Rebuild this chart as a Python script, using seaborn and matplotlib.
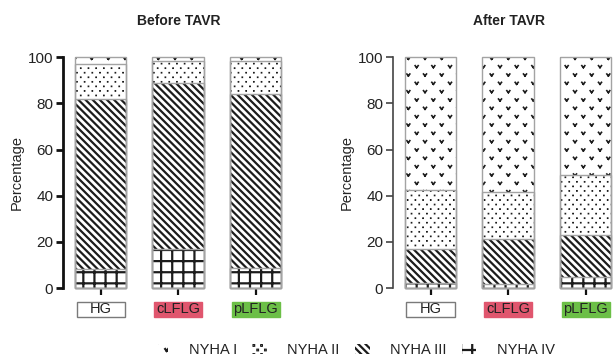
import numpy as np
import pandas as pd
import matplotlib
matplotlib.use("Agg")
import matplotlib.pyplot as plt
import matplotlib.hatch as mhatch
import matplotlib.patches as mpatches
import matplotlib.transforms as mtransforms
from matplotlib.path import Path
import seaborn as sns

# ---- data (percent of patients per NYHA class) ----
groups = ["HG", "cLFLG", "pLFLG"]
classes = ["NYHA I", "NYHA II", "NYHA III", "NYHA IV"]

before_i = [3.0, 1.7, 1.7]
before_ii = [14.9, 9.4, 14.0]
before_iii = [73.9, 72.2, 75.8]
before_iv = [8.2, 16.7, 8.5]

after_i = [57.4, 58.2, 51.0]
after_ii = [25.7, 20.6, 25.9]
after_iii = [14.7, 19.5, 18.3]
after_iv = [2.2, 1.7, 4.8]

y_ticks = [0, 20, 40, 60, 80, 100]
label_fill = ["white", "#E0566E", "#6CBF47"]


# ---- hatch patterns (one tile = 72 pt) ----
class GridRows(mhatch.HorizontalHatch):
    def __init__(self, pattern, density):
        super().__init__(pattern, 9)


class GridCols(mhatch.VerticalHatch):
    def __init__(self, pattern, density):
        super().__init__(pattern, 9)


class DenseBackslash(mhatch.SouthEastHatch):
    def __init__(self, pattern, density):
        super().__init__(pattern, 28)


class StaggeredMarks(mhatch.HatchPatternBase):
    symbol = "o"
    n_cols = 13
    n_rows = 22
    glyph = np.array([[-0.003, -0.003], [0.003, -0.003], [0.003, 0.003],
                      [-0.003, 0.003], [-0.003, -0.003]])
    glyph_codes = np.array([Path.MOVETO, Path.LINETO, Path.LINETO,
                            Path.LINETO, Path.CLOSEPOLY], dtype=Path.code_type)

    def __init__(self, pattern, density):
        centers = []
        if self.symbol in pattern:
            for r in range(self.n_rows + 1):
                y = r / self.n_rows
                if r % 2 == 0:
                    xs = np.arange(self.n_cols + 1) / self.n_cols
                else:
                    xs = (np.arange(self.n_cols) + 0.5) / self.n_cols
                centers.extend((x, y) for x in xs)
        self.centers = np.array(centers, dtype=float).reshape(-1, 2)
        self.num_vertices = len(self.centers) * len(self.glyph)

    def set_vertices_and_codes(self, vertices, codes):
        k = len(self.glyph)
        for i, c in enumerate(self.centers):
            vertices[i * k:(i + 1) * k] = self.glyph + c
            codes[i * k:(i + 1) * k] = self.glyph_codes


class Chevrons(StaggeredMarks):
    symbol = "O"
    n_cols = 6
    n_rows = 12
    # two separate strokes forming a small "v"
    glyph = np.array([[-0.015, 0.010], [0.0, -0.009],
                      [0.0, -0.009], [0.015, 0.010]])
    glyph_codes = np.array([Path.MOVETO, Path.LINETO,
                            Path.MOVETO, Path.LINETO], dtype=Path.code_type)


mhatch._hatch_types[:] = [GridRows, GridCols, DenseBackslash,
                          StaggeredMarks, Chevrons]

HATCH = {"NYHA I": "O", "NYHA II": "o", "NYHA III": "\\", "NYHA IV": "+"}
HATCH_LW = {"NYHA I": 1.2, "NYHA II": 0.8, "NYHA III": 1.6, "NYHA IV": 1.6}
INK = "#1c1c1c"
EDGE_GREY = "#a3a3a3"

# ---- style ----
sns.set_style("ticks")
plt.rcParams["font.family"] = ["Liberation Sans", "DejaVu Sans"]
plt.rcParams["hatch.linewidth"] = 1.6
plt.rcParams["text.color"] = "#222222"
plt.rcParams["xtick.color"] = "#111111"
plt.rcParams["ytick.color"] = "#111111"
plt.rcParams["xtick.labelcolor"] = "#222222"
plt.rcParams["ytick.labelcolor"] = "#222222"


def set_hatch_width(patches, lw):
    for p in patches:
        if hasattr(p, "set_hatch_linewidth"):
            p.set_hatch_linewidth(lw)
        else:
            p._hatch_linewidth = lw


fig = plt.figure(figsize=(6.16, 3.60), dpi=100)
ax_before = fig.add_axes([0.1023, 0.2, 0.3755, 0.6408])
ax_after = fig.add_axes([0.638, 0.2, 0.3755, 0.6408])

stack_order = ["NYHA IV", "NYHA III", "NYHA II", "NYHA I"]


def draw_panel(ax, title, shares, spine_w, spine_c):
    df = pd.DataFrame({"group": groups, **shares})
    tops = df[stack_order].cumsum(axis=1)
    tops["group"] = groups
    # tallest cumulative bar first, each lower segment paints over it
    for cls in reversed(stack_order):
        n0 = len(ax.patches)
        with plt.rc_context({"hatch.linewidth": HATCH_LW[cls]}):
            sns.barplot(data=tops, x="group", y=cls, order=groups,
                        color="white", saturation=1, hatch=HATCH[cls],
                        edgecolor=INK, linewidth=0, width=0.66,
                        errorbar=None, ax=ax, clip_on=False)
        set_hatch_width(ax.patches[n0:], HATCH_LW[cls])
    for cls in reversed(stack_order):
        sns.barplot(data=tops, x="group", y=cls, order=groups, fill=False,
                    color=EDGE_GREY, linewidth=1.0, width=0.66,
                    errorbar=None, ax=ax, clip_on=False)

    ax.set_xlim(-0.484, 2.5)
    ax.set_ylim(0, 100)
    ax.set_yticks(y_ticks)
    ax.set_xlabel("")
    ax.set_ylabel("Percentage", fontsize=10.5, labelpad=3)
    ax.set_title(title, fontsize=10, fontweight="bold", pad=23)
    for side in ["top", "right", "bottom"]:
        ax.spines[side].set_visible(False)
    ax.spines["left"].set_linewidth(spine_w)
    ax.spines["left"].set_color(spine_c)
    ax.tick_params(axis="y", length=5, width=spine_w, color=spine_c,
                   labelsize=11, pad=2)
    ax.tick_params(axis="x", length=5, width=1.6, labelsize=10.5, pad=5)

    # coloured boxes behind the group labels
    trans = mtransforms.blended_transform_factory(ax.transData, ax.transAxes)
    for i, fc in enumerate(label_fill):
        ec = "#7a7a7a" if fc == "white" else fc
        ax.add_patch(mpatches.Rectangle((i - 0.31, -0.1257), 0.62, 0.065,
                                        transform=trans, facecolor=fc,
                                        edgecolor=ec, linewidth=1.0,
                                        clip_on=False, zorder=0.5))


draw_panel(ax_before, "Before TAVR",
           {"NYHA I": before_i, "NYHA II": before_ii,
            "NYHA III": before_iii, "NYHA IV": before_iv},
           2.0, "#111111")
draw_panel(ax_after, "After TAVR",
           {"NYHA I": after_i, "NYHA II": after_ii,
            "NYHA III": after_iii, "NYHA IV": after_iv},
           1.2, "#444444")

handles = []
for c in classes:
    with plt.rc_context({"hatch.linewidth": HATCH_LW[c]}):
        h = mpatches.Patch(facecolor="white", edgecolor=INK, linewidth=0,
                           hatch=HATCH[c])
    set_hatch_width([h], HATCH_LW[c])
    handles.append(h)
fig.legend(handles, classes, loc="center", bbox_to_anchor=(0.575, 0.028),
           ncol=4, frameon=False, fontsize=10.5, handlelength=1.0,
           handleheight=0.65, handletextpad=1.4, columnspacing=1.05)

fig.savefig("out.png", dpi=100)
